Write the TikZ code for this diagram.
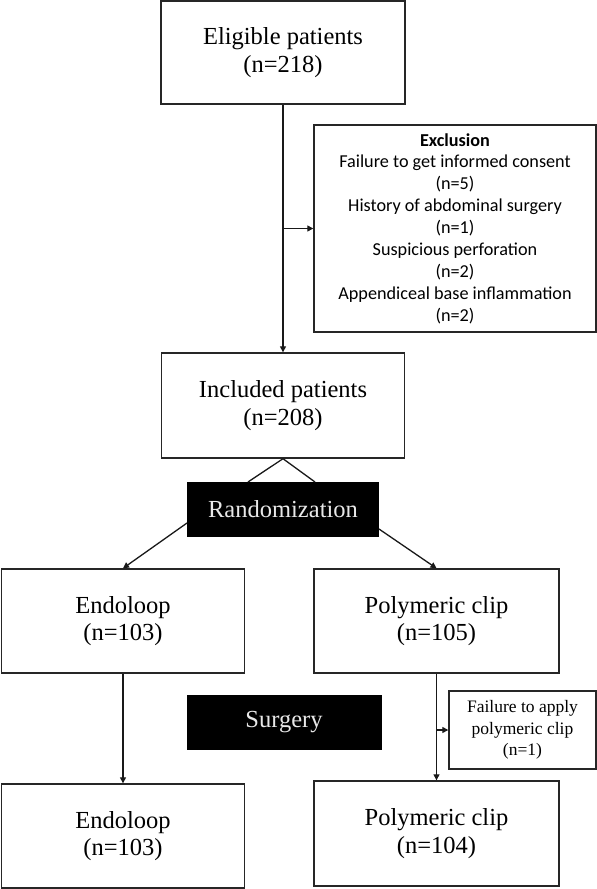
\documentclass[tikz,border=0pt]{standalone}
\usepackage{fontspec}
\setmainfont{Liberation Serif}
\newfontfamily\carlfont{Carlito}
\usetikzlibrary{arrows.meta}
\definecolor{lightw}{HTML}{E8E8E8}
\begin{document}
\begin{tikzpicture}[x=1pt,y=-1pt,
  box/.style={draw=black!85,line width=1.4pt,fill=white,inner sep=0pt,align=center,
    font=\fontsize{24.5}{27.5}\selectfont},
  darkbox/.style={fill=black,inner sep=0pt,align=center,text=lightw,
    font=\fontsize{24.5}{26}\selectfont},
  arr/.style={draw=black!90,line width=1.3pt,-{Triangle[length=6pt,width=6pt]}},
  ln/.style={draw=black!90,line width=1.3pt}]
\useasboundingbox (0,0) rectangle (597,889);
\node[box,minimum width=244pt,minimum height=103pt] (elig) at (283,52.5) {Eligible patients\\(n=218)};
\node[box,minimum width=282pt,minimum height=207pt,font=\carlfont\fontsize{18.2}{21.9}\selectfont] (excl) at (455,228.5)
  {\textbf{Exclusion}\\Failure to get informed consent\\(n=5)\\History of abdominal surgery\\(n=1)\\Suspicious perforation\\(n=2)\\Appendiceal base inflammation\\(n=2)};
\node[box,minimum width=243pt,minimum height=105pt] (incl) at (283,405.5) {Included patients\\(n=208)};
\node[darkbox,minimum width=192pt,minimum height=55pt] (rand) at (283,509.5) {Randomization};
\node[box,minimum width=243pt,minimum height=104pt] (endo1) at (123,621) {Endoloop\\(n=103)};
\node[box,minimum width=245pt,minimum height=104pt] (poly1) at (436.5,621) {Polymeric clip\\(n=105)};
\node[darkbox,minimum width=195pt,minimum height=55pt] (surg) at (284,722.5) {Surgery};
\node[box,minimum width=147pt,minimum height=78pt,font=\fontsize{17.5}{21.5}\selectfont] (fail) at (522.5,730) {Failure to apply\\polymeric clip\\(n=1)};
\node[box,minimum width=243pt,minimum height=104pt] (endo2) at (123,836) {Endoloop\\(n=103)};
\node[box,minimum width=245pt,minimum height=105pt] (poly2) at (436.5,833.5) {Polymeric clip\\(n=104)};
% connectors
\draw[arr] (elig.south) -- (incl.north);
\coordinate (exb) at (excl.west -| elig.south);
\draw[arr] (exb) -- (excl.west);
\coordinate (rl) at (248,482);
\coordinate (rr) at (315,482);
\draw[ln] (rl) -- (incl.south) -- (rr);
\coordinate (rlo) at (187,523);
\coordinate (rro) at (379,529);
\draw[arr] (rlo) -- (endo1.north);
\draw[arr] (rro) -- (poly1.north);
\draw[arr] (endo1.south) -- (endo2.north);
\draw[arr] (poly1.south) -- (poly2.north);
\coordinate (fb) at (fail.west -| poly1.south);
\draw[arr] (fb) -- (fail.west);
\end{tikzpicture}
\end{document}
